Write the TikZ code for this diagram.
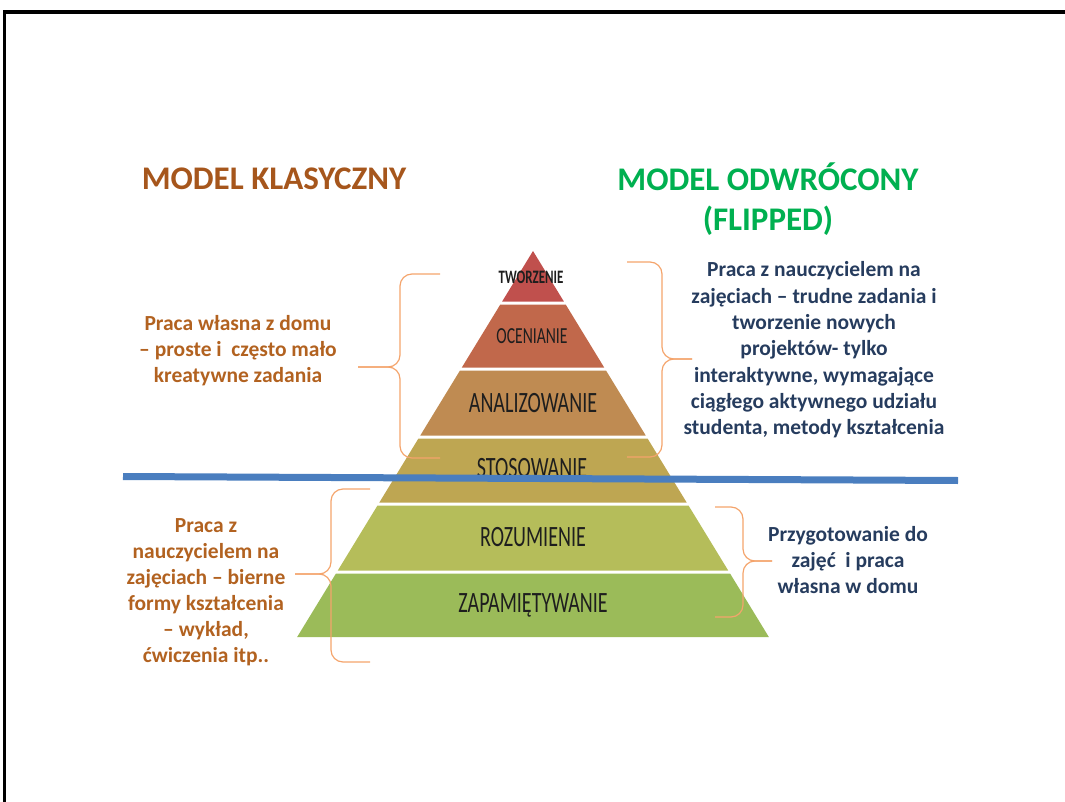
\documentclass[tikz,border=0pt]{standalone}
\usepackage{fontspec}
\setmainfont{Carlito}
\usepackage{graphicx}
\tikzset{>=latex}

\definecolor{klasbrown}{RGB}{166,86,28}
\definecolor{klastext}{RGB}{178,98,32}
\definecolor{odwrgreen}{RGB}{0,176,80}
\definecolor{odwrblue}{RGB}{38,60,94}
\definecolor{bracecol}{RGB}{244,164,108}
\definecolor{cutline}{RGB}{74,126,191}
\definecolor{lvltext}{RGB}{30,30,30}
\definecolor{cTworz}{RGB}{192,80,77}
\definecolor{cOcen}{RGB}{193,104,75}
\definecolor{cAnal}{RGB}{191,139,82}
\definecolor{cStos}{RGB}{190,166,82}
\definecolor{cRozum}{RGB}{181,189,90}
\definecolor{cZapam}{RGB}{155,187,89}

\tikzset{
  lvl/.style={text=lvltext, inner sep=0pt, font=\fontsize{29.5}{32}\selectfont},
  brc/.style={draw=bracecol, line width=1.2pt, rounded corners=12pt},
  klas/.style={text=klastext, align=center, inner sep=0pt, font=\bfseries\fontsize{21.5}{26}\selectfont},
  odwr/.style={text=odwrblue, align=center, inner sep=0pt, font=\bfseries\fontsize{21.5}{26.3}\selectfont},
  heading/.style={align=center, inner sep=0pt, font=\bfseries\fontsize{33}{40}\selectfont}
}
\newcommand{\squeeze}[1]{\scalebox{0.68}[1]{#1}}

\begin{document}
\begin{tikzpicture}[x=1pt, y=-1pt]
	\useasboundingbox (0,0) rectangle (1065,802);
	% frame
	\draw[line width=3.5pt] (4.5,802) -- (4.5,12) -- (1065,12);
	% headings
	\node[heading, text=klasbrown] (hdKlas) at (274,179) {MODEL KLASYCZNY};
	\node[heading, text=odwrgreen] (hdOdwr) at (768,199) {MODEL ODWRÓCONY\\(FLIPPED)};
	% pyramid bands
	\foreach \ya/\yb/\col in {251/301.5/cTworz, 304.5/367.5/cOcen, 370.5/435.5/cAnal,
	                          438.5/502.5/cStos, 505.5/570.5/cRozum, 573.5/637/cZapam}
		\fill[\col] ({533-0.611*(\ya-251)},\ya) -- ({533+0.611*(\ya-251)},\ya)
		            -- ({533+0.611*(\yb-251)},\yb) -- ({533-0.611*(\yb-251)},\yb) -- cycle;
	% level labels
	\node[lvl, font=\bfseries\fontsize{19}{20}\selectfont] (lvTworz) at (531,277) {\squeeze{TWORZENIE}};
	\node[lvl, font=\fontsize{23}{25}\selectfont] (lvOcen) at (532,336) {\squeeze{OCENIANIE}};
	\node[lvl] (lvAnal) at (533,403) {\squeeze{ANALIZOWANIE}};
	\node[lvl] (lvStos) at (532,468) {\squeeze{STOSOWANIE}};
	\node[lvl] (lvRozum) at (533,537) {\squeeze{ROZUMIENIE}};
	\node[lvl] (lvZapam) at (533,605) {\squeeze{ZAPAMIĘTYWANIE}};
	% dividing line
	\draw[cutline, line width=7pt] (123,476.5) -- (958,480.5);
	% braces
	\draw[brc] (440,274) -- (400,274) -- (400,367) -- (358,367);
	\draw[brc] (358,367) -- (400,367) -- (400,458) -- (440,458);
	\draw[brc] (627,262) -- (662,262) -- (662,359) -- (692,359);
	\draw[brc] (692,359) -- (662,359) -- (662,457) -- (627,457);
	\draw[brc] (370,489) -- (331,489) -- (331,574) -- (295,574);
	\draw[brc] (295,574) -- (331,574) -- (331,662) -- (370,662);
	\draw[brc] (715,507) -- (743,507) -- (743,561) -- (772,561);
	\draw[brc] (772,561) -- (743,561) -- (743,617) -- (715,617);
	% side texts
	\node[klas] (txtDom) at (238,351) {Praca własna z domu\\– proste i\ \ często mało\\kreatywne zadania};
	\node[odwr] (txtZajecia) at (814,350) {Praca z nauczycielem na\\zajęciach – trudne zadania i\\tworzenie nowych\\projektów- tylko\\interaktywne, wymagające\\ciągłego aktywnego udziału\\studenta, metody kształcenia};
	\node[klas] (txtBierne) at (206,592) {Praca z\\nauczycielem na\\zajęciach – bierne\\formy kształcenia\\– wykład,\\ćwiczenia itp..};
	\node[odwr] (txtPrzyg) at (848,560) {Przygotowanie do\\zajęć\ \ i praca\\własna w domu};
\end{tikzpicture}
\end{document}
